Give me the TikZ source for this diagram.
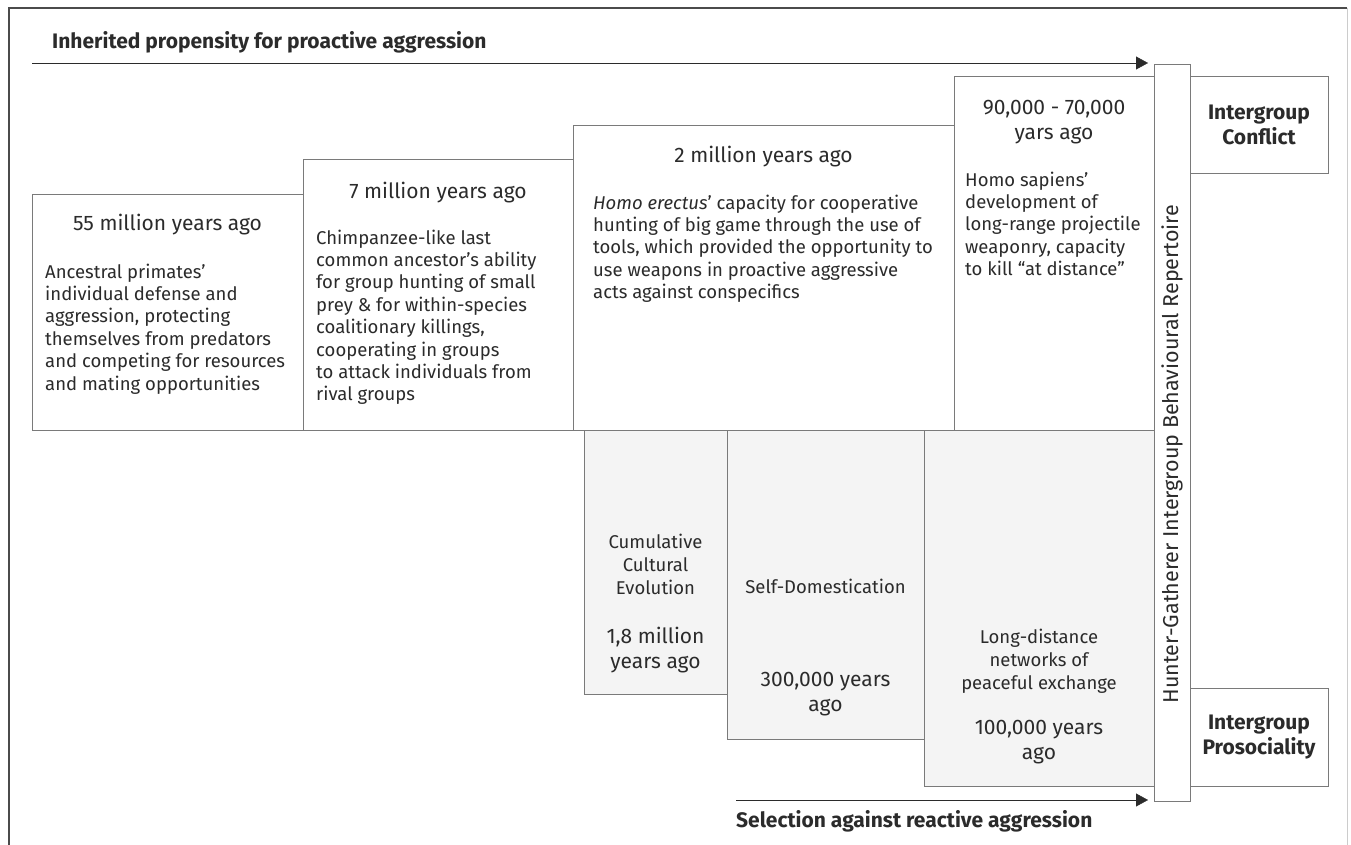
\documentclass[tikz,border=0pt]{standalone}
\usepackage{fontspec}
\setmainfont{Fira Sans}
\usetikzlibrary{arrows.meta}
\definecolor{boxline}{HTML}{7A7A7A}
\definecolor{boxfill}{HTML}{F4F4F4}
\definecolor{ink}{HTML}{2B2B2B}
\tikzset{%
	period/.style={draw=boxline,fill=white,inner sep=0pt,outer sep=0pt,anchor=north west},
	trait/.style={period,fill=boxfill},
	datelabel/.style={font=\fontsize{21}{25}\selectfont,text=ink,align=center,inner sep=0pt},
	eventtext/.style={font=\fontsize{18.5}{22.4}\selectfont,text=ink,align=left,inner sep=0pt,anchor=north west},
	traitname/.style={font=\fontsize{18.5}{22.8}\selectfont,text=ink,align=center,inner sep=0pt},
	headline/.style={font=\fontsize{21}{24}\selectfont\bfseries,text=ink,inner sep=0pt,anchor=base west},
	outcome/.style={period,align=center,font=\fontsize{21}{25}\selectfont\bfseries,text=ink},
	flow/.style={-{Triangle[length=12pt,width=13pt]},thin,ink,shorten >=6pt},
}

\begin{document}
\begin{tikzpicture}[x=1pt,y=-1pt]
	\useasboundingbox (0,0) rectangle (1351,845);
	\draw[ink!85, line width=1.2pt] (9,846) -- (9,8) -- (1347,8);
	\draw[gray!40] (1347,8) -- (1347,846);
	
	%periods
	\node[period, minimum width=271, minimum height=236] (p55) at (32,194) {};
	\node[period, minimum width=270, minimum height=271] (p7) at (303,159) {};
	\node[period, minimum width=381, minimum height=305] (p2) at (573,125) {};
	\node[period, minimum width=200, minimum height=354] (p90) at (954,76) {};
	
	\node[datelabel, anchor=base] (t55) at (167.5,230) {55 million years ago};
	\node[eventtext] (x55) at (45,263.5) {Ancestral primates’\\individual defense and\\aggression, protecting\\themselves from predators\\and competing for resources\\and mating opportunities};
	\node[datelabel, anchor=base] (t7) at (438,198) {7 million years ago};
	\node[eventtext] (x7) at (316,229.5) {Chimpanzee-like last\\common ancestor’s ability\\for group hunting of small\\prey \& for within-species\\coalitionary killings,\\cooperating in groups\\to attack individuals from\\rival groups};
	\node[datelabel, anchor=base] (t2) at (763.5,163) {2 million years ago};
	\node[eventtext] (x2) at (593,194.5) {\textit{Homo erectus}’ capacity for cooperative\\hunting of big game through the use of\\tools, which provided the opportunity to\\use weapons in proactive aggressive\\acts against conspecifics};
	\node[datelabel, anchor=north] (t90) at (1054,100) {90,000 - 70,000\\yars ago};
	\node[eventtext] (x90) at (965,171.5) {Homo sapiens’\\development of\\long-range projectile\\weaponry, capacity\\to kill “at distance”};
	
	%traits
	\node[trait, minimum width=143, minimum height=264] (cce) at (584,430) {};
	\node[trait, minimum width=197, minimum height=309] (sd) at (727,430) {};
	\node[trait, minimum width=230, minimum height=356] (ld) at (924,430) {};
	
	\node[traitname, anchor=north] (ncce) at (655.5,534) {Cumulative\\Cultural\\Evolution};
	\node[datelabel, anchor=north] (dcce) at (655.5,627) {1,8 million\\years ago};
	\node[traitname, anchor=base] (nsd) at (825.5,593) {Self-Domestication};
	\node[datelabel, anchor=north] (dsd) at (825.5,672) {300,000 years\\ago};
	\node[traitname, anchor=north] (nld) at (1039,629) {Long-distance\\networks of\\peaceful exchange};
	\node[datelabel, anchor=north] (dld) at (1039,720) {100,000 years\\ago};
	
	%repertoire
	\node[period, minimum width=36, minimum height=737] (bar) at (1154,64) {};
	\node[rotate=90, font=\fontsize{21.5}{24}\selectfont, text=ink, inner sep=0pt] (nbar) at (1172,454) {Hunter-Gatherer Intergroup Behavioural Repertoire};
	\node[outcome, minimum width=138, minimum height=97] (conf) at (1190,76) {Intergroup\\Conflict};
	\node[outcome, minimum width=138, minimum height=98] (pros) at (1190,688) {Intergroup\\Prosociality};
	
	%selection
	\coordinate (inh) at (32,63);
	\coordinate (sel) at (736,800);
	\draw[flow] (inh) -- (inh -| bar.west);
	\draw[flow] (sel) -- (sel -| bar.west);
	\node[headline] (hinh) at (52,49) {Inherited propensity for proactive aggression};
	\node[headline] (hsel) at (736,827) {Selection against reactive aggression};
\end{tikzpicture}
\end{document}
